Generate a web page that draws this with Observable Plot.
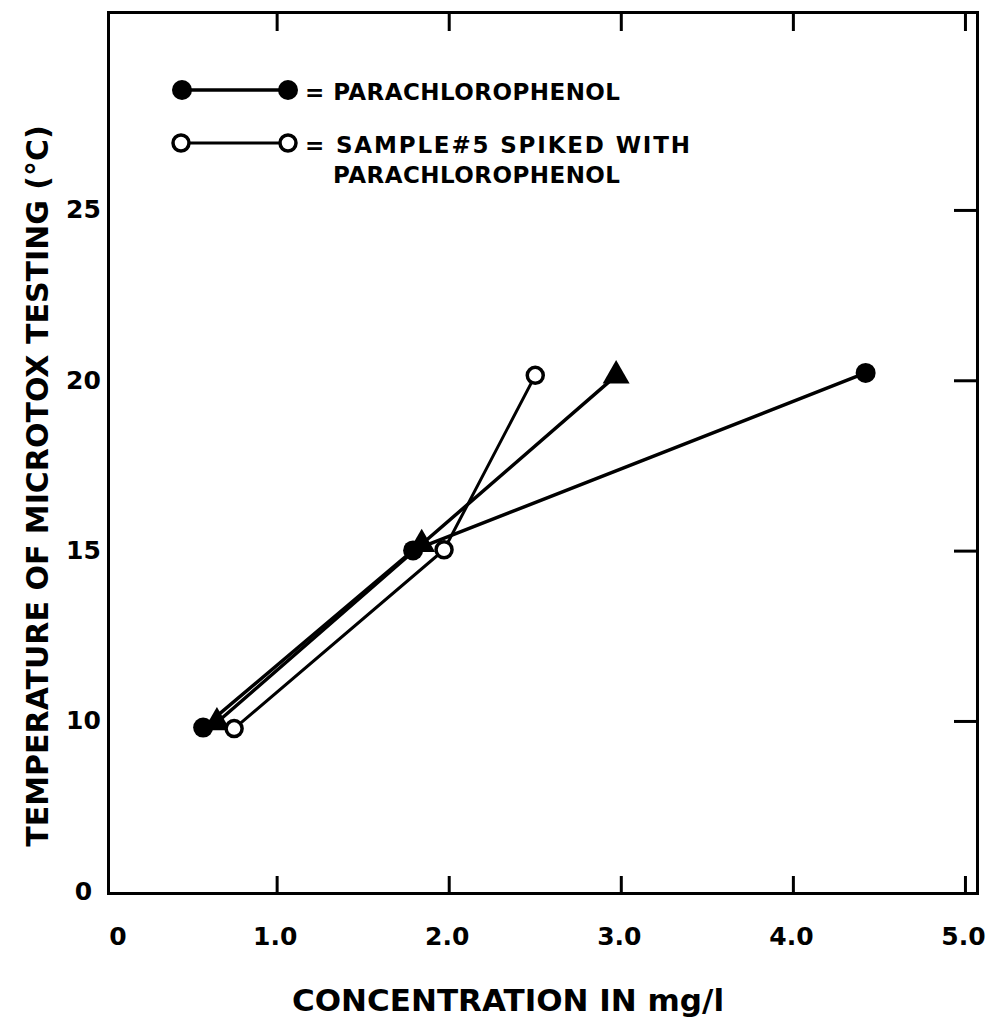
<!DOCTYPE html>
<html><head><meta charset="utf-8">
<script src="https://cdn.jsdelivr.net/npm/d3@7"></script>
<script src="https://cdn.jsdelivr.net/npm/@observablehq/plot@0.6"></script>
<style>
body{margin:0;background:#fff;}
#chart{width:986px;height:1023px;}
</style></head><body><div id="chart"></div>
<script>
// Series: filled circles = parachlorophenol
const filledX = [0.57, 1.79, 4.42];
const filledY = [9.82, 15.02, 20.23];
// open circles = sample #5 spiked with parachlorophenol
const openX = [0.75, 1.97, 2.50];
const openY = [9.79, 15.04, 20.16];
// filled triangles (unlabelled series)
const triX = [0.65, 1.84, 2.97];
const triY = [9.97, 15.20, 20.15];

const xTicks = [1, 2, 3, 4, 5];
const xTickLabels = ["1.0", "2.0", "3.0", "4.0", "5.0"];
const xZeroTick = [0];
const yTicks = [5, 10, 15, 20, 25];           // broken axis: bottom labelled "0"
const yTickLabels = ["0", "10", "15", "20", "25"];
const yRightTicks = [10, 15, 20, 25];

const legendLabels = ["= PARACHLOROPHENOL", "= SAMPLE#5 SPIKED WITH", "PARACHLOROPHENOL"];
const xLabel = "CONCENTRATION IN mg/l";
const yLabel = "TEMPERATURE OF MICROTOX TESTING (°C)";

const toRows = (xs, ys) => xs.map((x, i) => ({x, y: ys[i]}));
const filled = toRows(filledX, filledY);
const open = toRows(openX, openY);
const tri = toRows(triX, triY);

const FONT = "DejaVu Sans";

const plot = Plot.plot({
  width: 986,
  height: 1023,
  marginLeft: 108,
  marginRight: 9,
  marginTop: 12,
  marginBottom: 130,
  style: {fontFamily: FONT, fontWeight: "bold", color: "black", background: "white"},
  x: {domain: [0.02, 5.07]},
  y: {domain: [4.95, 30.81]},
  marks: [
    Plot.axisX(xTicks, {anchor: "bottom", tickSize: -17, strokeWidth: 3, tickFormat: () => "", label: null}),
    Plot.axisX(xTicks, {anchor: "top", tickSize: -18, strokeWidth: 3, tickFormat: () => "", label: null}),
    Plot.axisY(yRightTicks, {anchor: "right", tickSize: -24, strokeWidth: 3, tickFormat: () => "", label: null}),
    Plot.text(xTicks, {x: d => d, text: (d, i) => xTickLabels[i], frameAnchor: "bottom", dy: 43, dx: -2, fontSize: 25, lineAnchor: "middle", textAnchor: "middle"}),
    Plot.text(xZeroTick, {x: d => d, text: () => "0", frameAnchor: "bottom", dy: 43, dx: 13, fontSize: 25, lineAnchor: "middle", textAnchor: "middle"}),
    Plot.text(yTicks, {y: d => d, text: (d, i) => yTickLabels[i], frameAnchor: "left", dx: -25, fontSize: 25, textAnchor: "middle", lineAnchor: "middle"}),
    Plot.text([xLabel], {text: d => d, frameAnchor: "bottom", dx: -35, dy: 108, fontSize: 31, lineAnchor: "middle", textAnchor: "middle"}),
    Plot.text([yLabel], {text: d => d, frameAnchor: "left", dx: -70, dy: 33, rotate: -90, fontSize: 30, lineAnchor: "middle", textAnchor: "middle"}),
    Plot.frame({stroke: "black", strokeWidth: 3}),
    Plot.line(filled, {x: "x", y: "y", stroke: "black", strokeWidth: 3.5}),
    Plot.line(open, {x: "x", y: "y", stroke: "black", strokeWidth: 3}),
    Plot.line(tri, {x: "x", y: "y", stroke: "black", strokeWidth: 3.5}),
    Plot.dot(tri, {x: "x", y: "y", symbol: "triangle", r: 10, fill: "black"}),
    Plot.dot(filled, {x: "x", y: "y", r: 10, fill: "black"}),
    Plot.dot(open, {x: "x", y: "y", r: 8, fill: "white", stroke: "black", strokeWidth: 3.5})
  ]
});
document.getElementById("chart").appendChild(plot);

// Legend drawn inside the frame (top-left)
const svg = d3.select(plot);
const lg = svg.append("g").attr("class", "legend").attr("text-anchor", "start");
const rowY = [90, 143];
lg.append("line").attr("x1", 182).attr("x2", 288).attr("y1", rowY[0]).attr("y2", rowY[0]).attr("stroke", "black").attr("stroke-width", 3.5);
[182, 288].forEach(cx => lg.append("circle").attr("cx", cx).attr("cy", rowY[0]).attr("r", 10).attr("fill", "black"));
lg.append("line").attr("x1", 181).attr("x2", 288).attr("y1", rowY[1]).attr("y2", rowY[1]).attr("stroke", "black").attr("stroke-width", 3);
[181, 288].forEach(cx => lg.append("circle").attr("cx", cx).attr("cy", rowY[1]).attr("r", 8).attr("fill", "white").attr("stroke", "black").attr("stroke-width", 3.5));
const lt = [[305, 100, legendLabels[0], 315], [305, 153, legendLabels[1], 385], [333, 183, legendLabels[2], 287]];
lt.forEach(([x, y, t, len]) => lg.append("text").attr("x", x).attr("y", y).attr("text-anchor", "start")
  .attr("font-size", 23).attr("font-family", FONT).attr("font-weight", "bold")
  .attr("textLength", len).attr("lengthAdjust", "spacing").text(t));
</script></body></html>
